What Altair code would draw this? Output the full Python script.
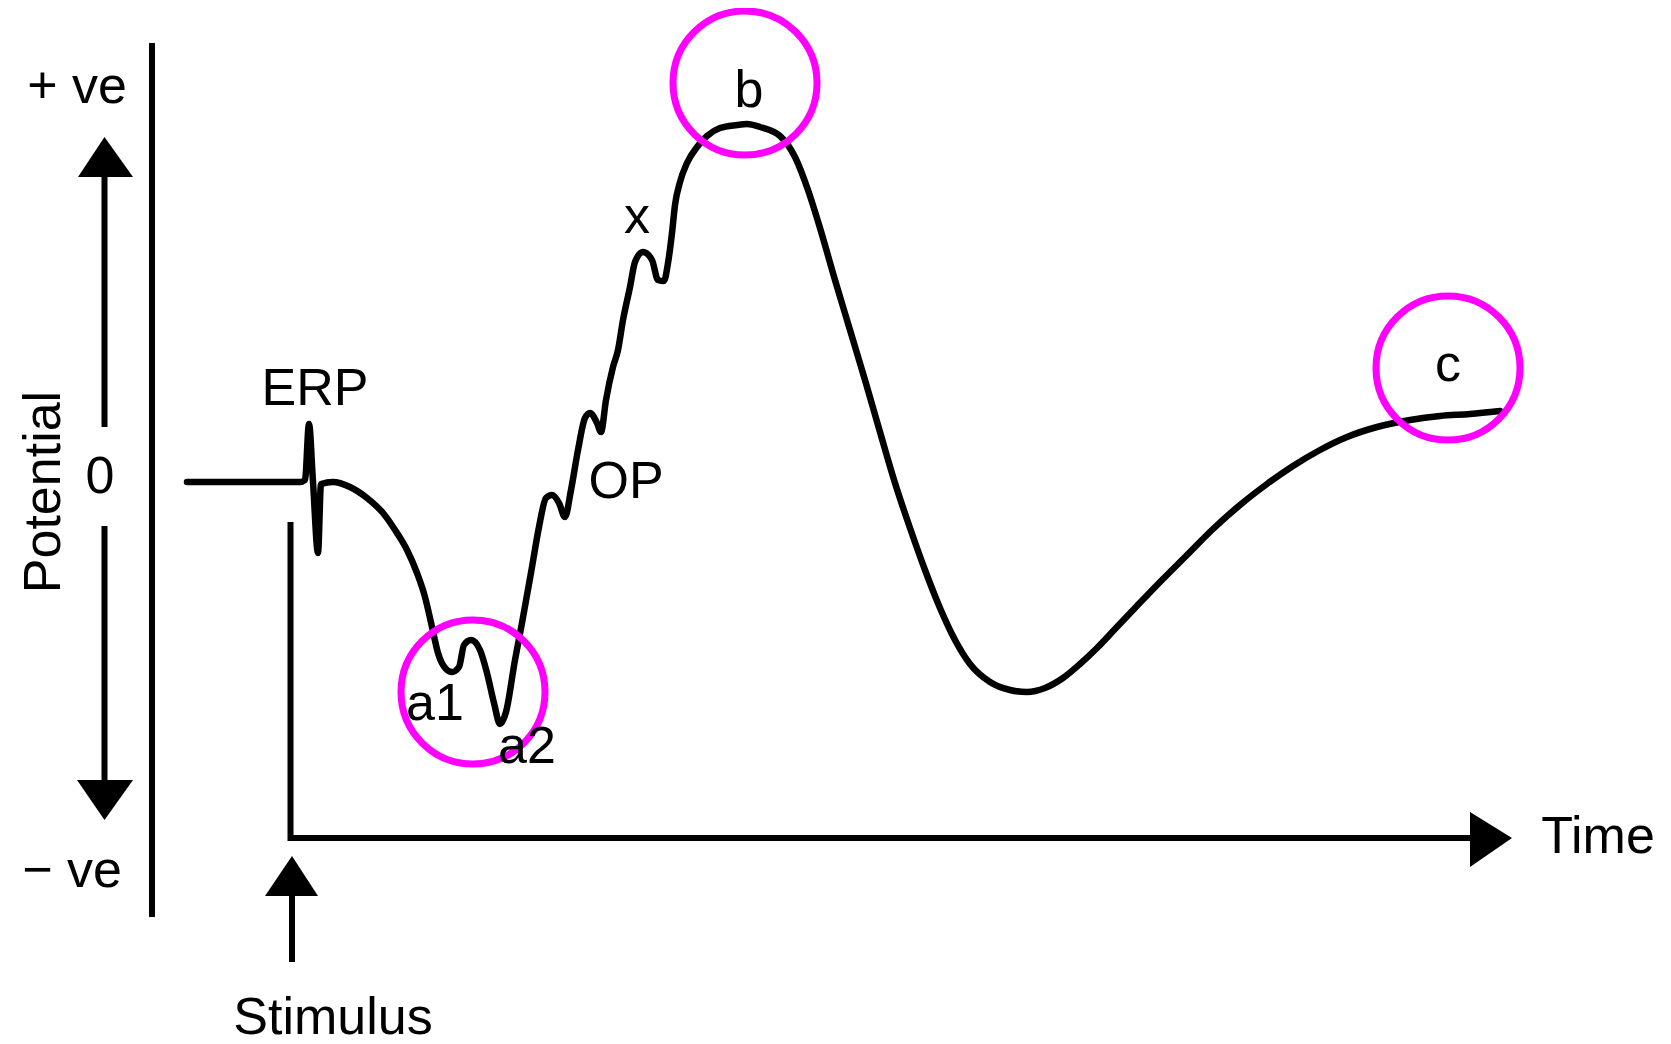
import altair as alt
import pandas as pd

# ---- ERG trace: time (ms after stimulus) and potential (arbitrary units) ----
trace_t = [-10.3, 1.0, 1.5, 1.9, 2.3, 2.8, 3.1, 4.3, 6.0, 7.7, 9.3, 10.7, 11.7, 12.7, 13.5,
           14.2, 14.8, 15.6, 16.2, 16.9, 17.4, 18.1, 19.0, 19.7, 20.4, 21.0, 21.6, 22.5,
           23.2, 24.2, 24.9, 25.6, 26.2, 26.9, 27.5, 28.1, 28.8, 29.5, 30.0, 30.7, 31.1,
           31.6, 32.3, 32.8, 33.3, 34.0, 34.5, 35.3, 36.2, 36.8, 37.4, 37.8, 38.2, 38.5,
           39.0, 39.7, 40.7, 41.7, 43.0, 44.7, 45.7, 47.0, 49.0, 50.5, 51.8, 53.0, 54.5,
           56.0, 57.5, 59.0, 60.5, 62.0, 63.5, 65.0, 66.5, 68.0, 70.0, 72.0, 73.7, 75.5,
           77.3, 79.0, 80.7, 82.5, 84.5, 87.0, 89.7, 92.3, 95.0, 97.7, 100.3, 103.0, 105.7,
           108.7, 112.0, 115.0, 118.0, 121.0]
trace_v = [0, 0, 2, 58, 0, -71, -2, 0, -5, -16, -31, -51, -68, -91, -115,
           -145, -171, -187, -190, -185, -163, -158, -168, -191, -221, -242, -230, -178,
           -141, -85, -45, -16, -13, -21, -35, -8, 32, 64, 69, 59, 50,
           82, 115, 132, 162, 195, 220, 230, 222, 202, 201, 219, 249, 277,
           300, 319, 335, 346, 354, 357, 358, 355, 346, 325, 292, 254, 202,
           152, 102, 50, -1, -46, -88, -126, -158, -182, -200, -208, -210, -206,
           -196, -182, -166, -147, -126, -100, -73, -47, -23, -2, 16, 32, 45,
           55, 62, 66, 68, 71]

# ---- straight guide lines (potential axis, arrow shafts) ----
seg_t1 = [-13.8, -18.55, -18.55, 0.2]
seg_v1 = [439, 305, -44, -414]
seg_t2 = [-13.8, -18.55, -18.55, 0.2]
seg_v2 = [-435, 55, -298, -480]

# ---- stimulus / time L-shaped axis ----
axis_t = [0.05, 0.05, 118.0]
axis_v = [-40, -356, -356]

# ---- vertical arrowheads (base and tip) ----
vhead_id = ["up", "up", "down", "down", "stim", "stim"]
vhead_v = [305, 345, -298, -338, -414, -374]
vhead_left = [-21.2, -18.55, -21.3, -18.55, -2.5, 0.2]
vhead_right = [-15.7, -18.55, -15.7, -18.55, 2.8, 0.2]

# ---- time arrowhead ----
thead_t = [118.0, 122.2]
thead_top = [-330, -356]
thead_bottom = [-385, -356]

# ---- highlighted components (circles) ----
circle_name = ["a", "b", "c"]
circle_t = [18.3, 45.5, 115.8]
circle_v = [-210, 399, 114]

# ---- labels ----
label_text = ["+ ve", "− ve", "0", "ERP", "a1", "a2", "OP", "x", "b", "c", "Time", "Stimulus"]
label_t = [-21.3, -21.8, -19.0, 2.5, 14.5, 23.7, 33.6, 34.7, 45.9, 115.8, 130.8, 4.3]
label_v = [379, -405, -11, 77, -238, -281, -16, 249, 375, 101, -371, -552]

ylabel_text = ["Potential"]
ylabel_t = [-23.0]
ylabel_v = [-10]

X_DOMAIN = [-28.2, 137.3]
Y_DOMAIN = [-562, 474]

xs = alt.Scale(domain=X_DOMAIN, nice=False, zero=False)
ys = alt.Scale(domain=Y_DOMAIN, nice=False, zero=False)

FONT = "Liberation Sans"
FS = 52

trace_df = pd.DataFrame({"t": trace_t, "v": trace_v, "i": list(range(len(trace_t)))})
seg_df = pd.DataFrame({"t1": seg_t1, "v1": seg_v1, "t2": seg_t2, "v2": seg_v2})
axis_df = pd.DataFrame({"t": axis_t, "v": axis_v, "i": list(range(len(axis_t)))})
vhead_df = pd.DataFrame({"id": vhead_id, "v": vhead_v, "l": vhead_left, "r": vhead_right})
thead_df = pd.DataFrame({"t": thead_t, "top": thead_top, "bot": thead_bottom})
circ_df = pd.DataFrame({"name": circle_name, "t": circle_t, "v": circle_v})
lab_df = pd.DataFrame({"text": label_text, "t": label_t, "v": label_v})
ylab_df = pd.DataFrame({"text": ylabel_text, "t": ylabel_t, "v": ylabel_v})

trace = alt.Chart(trace_df).mark_line(
    color="black", strokeWidth=6.5, interpolate="monotone", strokeCap="round", strokeJoin="round"
).encode(
    x=alt.X("t:Q", scale=xs, axis=None),
    y=alt.Y("v:Q", scale=ys, axis=None),
    order="i:Q",
)

segs = alt.Chart(seg_df).mark_rule(color="black", strokeWidth=6).encode(
    x=alt.X("t1:Q", scale=xs, axis=None),
    x2="t2:Q",
    y=alt.Y("v1:Q", scale=ys, axis=None),
    y2="v2:Q",
)

taxis = alt.Chart(axis_df).mark_line(
    color="black", strokeWidth=6, strokeJoin="miter", strokeCap="butt"
).encode(
    x=alt.X("t:Q", scale=xs, axis=None),
    y=alt.Y("v:Q", scale=ys, axis=None),
    order="i:Q",
)

vheads = alt.Chart(vhead_df).mark_area(color="black", orient="horizontal").encode(
    y=alt.Y("v:Q", scale=ys, axis=None),
    x=alt.X("l:Q", scale=xs, axis=None),
    x2="r:Q",
    detail="id:N",
)

theads = alt.Chart(thead_df).mark_area(color="black", orient="vertical").encode(
    x=alt.X("t:Q", scale=xs, axis=None),
    y=alt.Y("top:Q", scale=ys, axis=None),
    y2="bot:Q",
)

circles = alt.Chart(circ_df).mark_point(
    shape="circle", size=20736, filled=False, color="#ff00ff", strokeWidth=7, opacity=1
).encode(
    x=alt.X("t:Q", scale=xs, axis=None),
    y=alt.Y("v:Q", scale=ys, axis=None),
)

labels = alt.Chart(lab_df).mark_text(
    font=FONT, fontSize=FS, color="black", align="center", baseline="alphabetic"
).encode(
    x=alt.X("t:Q", scale=xs, axis=None),
    y=alt.Y("v:Q", scale=ys, axis=None),
    text="text:N",
)

ylab = alt.Chart(ylab_df).mark_text(
    font=FONT, fontSize=FS, color="black", align="center", baseline="alphabetic", angle=270
).encode(
    x=alt.X("t:Q", scale=xs, axis=None),
    y=alt.Y("v:Q", scale=ys, axis=None),
    text="text:N",
)

chart = alt.layer(
    trace, segs, taxis, vheads, theads, circles, labels, ylab
).properties(
    width=1655, height=1036, padding=0,
    autosize=alt.AutoSizeParams(type="none"),
    background="white",
).configure_view(stroke="transparent")

chart.save("out.html", embed_options={"renderer": "svg", "actions": False})
